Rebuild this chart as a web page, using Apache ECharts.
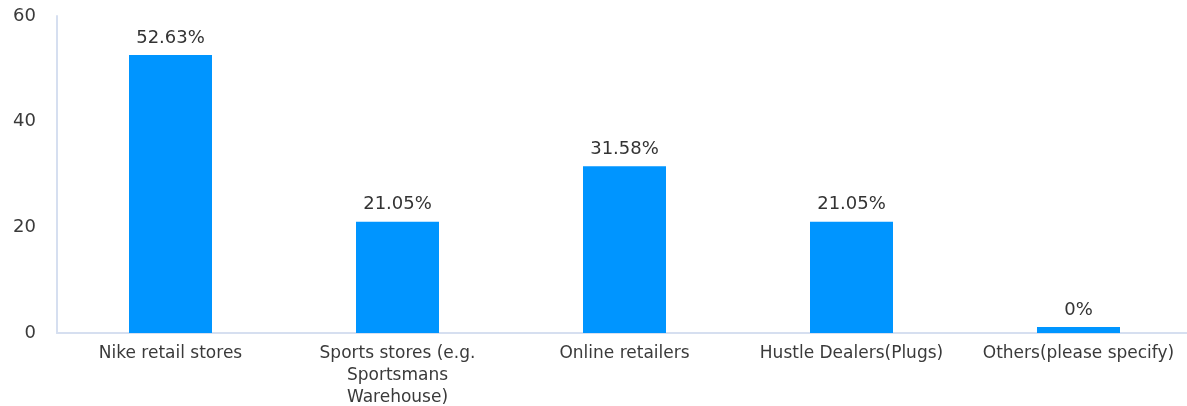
<!DOCTYPE html>
<html>
<head>
<meta charset="utf-8">
<script src="https://cdn.jsdelivr.net/npm/echarts@6/dist/echarts.min.js"></script>
<style>
  html, body { margin: 0; padding: 0; background: #fff; }
  #main { width: 1187px; height: 406px; }
</style>
</head>
<body>
<div id="main"></div>
<script>
var categories = [
  'Nike retail stores',
  'Sports stores (e.g.\nSportsmans\nWarehouse)',
  'Online retailers',
  'Hustle Dealers(Plugs)',
  'Others(please specify)'
];
var values = [52.63, 21.05, 31.58, 21.05, 0];
var yTicks = [0, 20, 40, 60];

var chartDom = document.getElementById('main');
var myChart = echarts.init(chartDom);
var option;

var font = '"DejaVu Sans", sans-serif';

option = {
  animation: false,
  grid: {
    left: 57,
    right: -5,
    top: 16,
    bottom: 73,
    outerBoundsMode: 'none',
    containLabel: false
  },
  xAxis: {
    type: 'category',
    data: categories,
    axisLine: { lineStyle: { color: '#d6dff0', width: 2 } },
    axisTick: { show: false },
    axisLabel: {
      color: '#3a3a3a',
      fontSize: 17,
      fontFamily: font,
      lineHeight: 22,
      margin: 10,
      interval: 0,
      hideOverlap: false
    }
  },
  yAxis: {
    type: 'value',
    min: yTicks[0],
    max: yTicks[yTicks.length - 1],
    interval: 20,
    axisLine: { show: true, lineStyle: { color: '#d6dff0', width: 2 } },
    axisTick: { show: false },
    splitLine: { show: false },
    axisLabel: {
      color: '#3a3a3a',
      fontSize: 18,
      fontFamily: font,
      margin: 21
    }
  },
  series: [
    {
      type: 'bar',
      data: values,
      barWidth: 83,
      barMinHeight: 6,
      itemStyle: { color: '#0095ff' },
      label: {
        show: true,
        position: 'top',
        distance: 8,
        color: '#333',
        fontSize: 18,
        fontFamily: font,
        formatter: function (p) { return p.value + '%'; }
      }
    }
  ]
};

option && myChart.setOption(option);
</script>
</body>
</html>
